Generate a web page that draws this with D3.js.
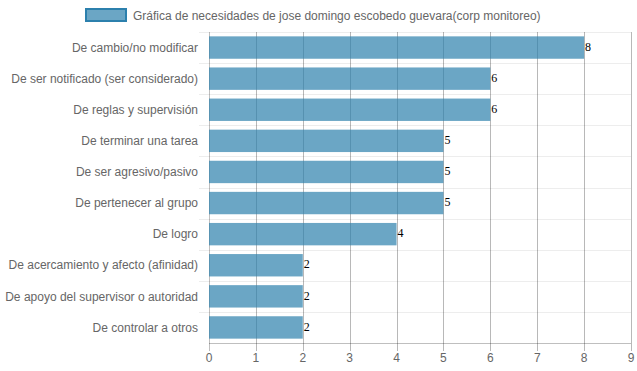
<!DOCTYPE html>
<html>
<head>
<meta charset="utf-8">
<script src="https://cdn.jsdelivr.net/npm/d3@7"></script>
<style>
  body { margin: 0; background: #fff; }
  text { font-family: "Liberation Sans", Arial, sans-serif; }
</style>
</head>
<body>
<script>
let width = 637, height = 371;

let categories = [
  'De cambio/no modificar',
  'De ser notificado (ser considerado)',
  'De reglas y supervisión',
  'De terminar una tarea',
  'De ser agresivo/pasivo',
  'De pertenecer al grupo',
  'De logro',
  'De acercamiento y afecto (afinidad)',
  'De apoyo del supervisor o autoridad',
  'De controlar a otros'
];
let values = [8, 6, 6, 5, 5, 5, 4, 2, 2, 2];
let xTicks = [0, 1, 2, 3, 4, 5, 6, 7, 8, 9];
let legendLabel = 'Gráfica de necesidades de jose domingo escobedo guevara(corp monitoreo)';

let margin = { left: 209, right: 6, top: 32, bottom: 28 };

let x = d3.scaleLinear()
  .domain([0, 9])
  .range([margin.left, width - margin.right]);

let y = d3.scaleBand()
  .domain(categories)
  .range([margin.top, height - margin.bottom]);

let svg = d3.select('body')
  .append('svg')
  .attr('width', width)
  .attr('height', height);

// horizontal light grid (band edges)
let edges = categories.map(function(c) { return y(c); }).concat([y.range()[1]]);
svg.append('g')
  .selectAll('line')
  .data(edges.slice(0, -1))
  .join('line')
  .attr('x1', margin.left - 10)
  .attr('x2', width - margin.right)
  .attr('y1', function(d) { return Math.round(d) + 0.5; })
  .attr('y2', function(d) { return Math.round(d) + 0.5; })
  .attr('stroke', 'rgba(0,0,0,0.07)');

// vertical grid
svg.append('g')
  .selectAll('line')
  .data(xTicks)
  .join('line')
  .attr('x1', function(d) { return Math.round(x(d)) + 0.5; })
  .attr('x2', function(d) { return Math.round(x(d)) + 0.5; })
  .attr('y1', margin.top)
  .attr('y2', y.range()[1] + 8)
  .attr('stroke', function(d) { return d === 0 ? 'rgba(0,0,0,0.25)' : 'rgba(0,0,0,0.28)'; });

// bottom axis line
svg.append('line')
  .attr('x1', margin.left)
  .attr('x2', width - margin.right)
  .attr('y1', Math.round(y.range()[1]) + 0.5)
  .attr('y2', Math.round(y.range()[1]) + 0.5)
  .attr('stroke', 'rgba(0,0,0,0.25)');

// bars
let barH = y.bandwidth() * 0.72;
svg.append('g')
  .selectAll('rect')
  .data(values)
  .join('rect')
  .attr('x', x(0))
  .attr('y', function(d, i) { return y(categories[i]) + (y.bandwidth() - barH) / 2; })
  .attr('width', function(d) { return x(d) - x(0); })
  .attr('height', barH)
  .attr('fill', 'rgba(44,128,173,0.7)');

// value labels
svg.append('g')
  .selectAll('text')
  .data(values)
  .join('text')
  .attr('x', function(d) { return x(d) + 1; })
  .attr('y', function(d, i) { return y(categories[i]) + y.bandwidth() / 2 - 1; })
  .attr('dy', '0.35em')
  .style('font-family', '"Liberation Serif", "Times New Roman", serif')
  .style('font-size', '12px')
  .attr('fill', '#000')
  .text(function(d) { return d; });

// category labels
svg.append('g')
  .selectAll('text')
  .data(categories)
  .join('text')
  .attr('x', margin.left - 11)
  .attr('y', function(d) { return y(d) + y.bandwidth() / 2; })
  .attr('dy', '0.35em')
  .attr('text-anchor', 'end')
  .style('font-size', '12px')
  .attr('fill', '#666')
  .text(function(d) { return d; });

// x tick labels
svg.append('g')
  .selectAll('text')
  .data(xTicks)
  .join('text')
  .attr('x', function(d) { return x(d); })
  .attr('y', y.range()[1] + 15)
  .attr('dy', '0.35em')
  .attr('text-anchor', 'middle')
  .style('font-size', '12px')
  .attr('fill', '#666')
  .text(function(d) { return d; });

// legend
let legend = svg.append('g');
legend.append('rect')
  .attr('x', 86)
  .attr('y', 9)
  .attr('width', 40)
  .attr('height', 12)
  .attr('fill', 'rgba(44,128,173,0.7)')
  .attr('stroke', 'rgb(44,128,173)')
  .attr('stroke-width', 2);
legend.append('text')
  .attr('x', 133)
  .attr('y', 15.5)
  .attr('dy', '0.35em')
  .style('font-size', '12px')
  .attr('fill', '#666')
  .text(legendLabel);
</script>
</body>
</html>
